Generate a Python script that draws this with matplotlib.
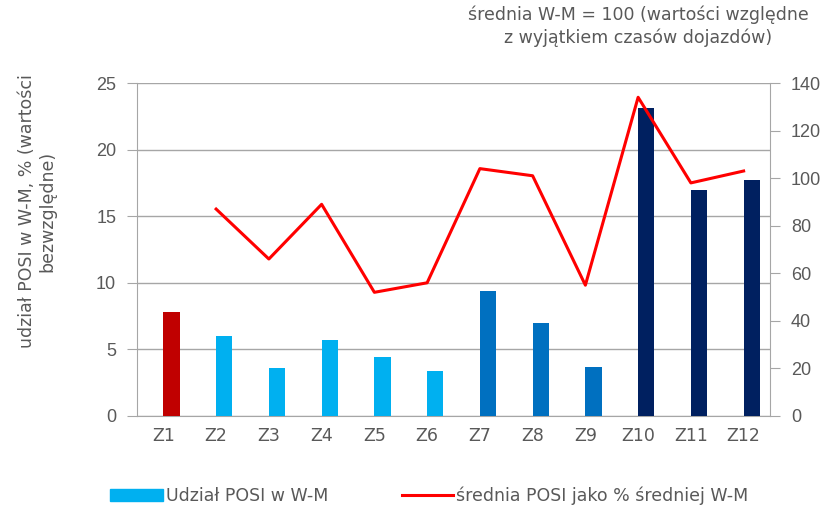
import numpy as np
import matplotlib.pyplot as plt
from matplotlib.patches import Patch
from matplotlib.lines import Line2D

plt.rcParams['font.family'] = ['DejaVu Sans']

# dane
strefy = ['Z1', 'Z2', 'Z3', 'Z4', 'Z5', 'Z6', 'Z7', 'Z8', 'Z9', 'Z10', 'Z11', 'Z12']
udzial = [7.8, 6.0, 3.6, 5.7, 4.4, 3.4, 9.4, 6.95, 3.7, 23.1, 17.0, 17.7]
srednia = [np.nan, 87, 66, 89, 52, 56, 104, 101, 55, 134, 98, 103]
kolory = ['#C00000'] + ['#00B0F0'] * 5 + ['#0070C0'] * 3 + ['#002060'] * 3

txt = '#595959'
szary = '#A6A6A6'
fs = 12.5
W, H = 825, 507
fig = plt.figure(figsize=(W / 100, H / 100), dpi=100)
ax = fig.add_axes([137 / W, 1 - 416 / H, 633 / W, 333 / H])
x = np.arange(len(strefy))

# slupki przesuniete w prawo od srodka kategorii (jak w oryginale)
ax.bar(x, udzial, width=0.31, align='edge', color=kolory, zorder=3)
ax.set_xlim(-0.5, len(strefy) - 0.5)
ax.set_ylim(0, 25)
ax.set_yticks([0, 5, 10, 15, 20, 25])
ax.grid(axis='y', color=szary, lw=1, zorder=0)
ax.set_xticks(x)
ax.set_xticklabels(strefy, fontsize=fs, color=txt)
ax.tick_params(axis='x', length=0, pad=8)
ax.tick_params(axis='y', length=7, color=szary, pad=8)
for lab in ax.get_yticklabels():
    lab.set_fontfamily('Liberation Sans')
    lab.set_fontsize(13)
    lab.set_color(txt)
for s in ['top', 'right']:
    ax.spines[s].set_visible(False)
for s in ['left', 'bottom']:
    ax.spines[s].set_color(szary)
ax.set_ylabel('udział POSI w W-M, % (wartości\nbezwzględne)', fontsize=fs,
              color=txt, linespacing=1.15)
ax.yaxis.set_label_coords(-0.128, 0.615)

ax2 = ax.twinx()
ax2.plot(x, srednia, color='#FF0000', lw=2.2, zorder=4)
ax2.set_ylim(0, 140)
ax2.set_yticks(np.arange(0, 141, 20))
ax2.tick_params(axis='y', length=7, color=szary, pad=8)
for lab in ax2.get_yticklabels():
    lab.set_fontfamily('Liberation Sans')
    lab.set_fontsize(13)
    lab.set_color(txt)
for s in ['top', 'left', 'bottom']:
    ax2.spines[s].set_visible(False)
ax2.spines['right'].set_color(szary)

fig.text(638 / W, 1 - 6 / H, 'średnia W-M = 100 (wartości względne\nz wyjątkiem czasów dojazdów)',
         ha='center', va='top', fontsize=fs, color=txt, linespacing=1.25)

fig.legend([Patch(color='#00B0F0')], ['Udział POSI w W-M'],
           loc='center left', bbox_to_anchor=(110 / W, 1 - 496 / H),
           frameon=False, fontsize=fs, labelcolor=txt, borderpad=0,
           borderaxespad=0, handlelength=3.05, handletextpad=0.17)
fig.legend([Line2D([0], [0], color='#FF0000', lw=2.2)],
           ['średnia POSI jako % średniej W-M'],
           loc='center left', bbox_to_anchor=(402 / W, 1 - 496 / H),
           frameon=False, fontsize=fs, labelcolor=txt, borderpad=0,
           borderaxespad=0, handlelength=2.95, handletextpad=0.17)

fig.savefig('out.png', dpi=100)
